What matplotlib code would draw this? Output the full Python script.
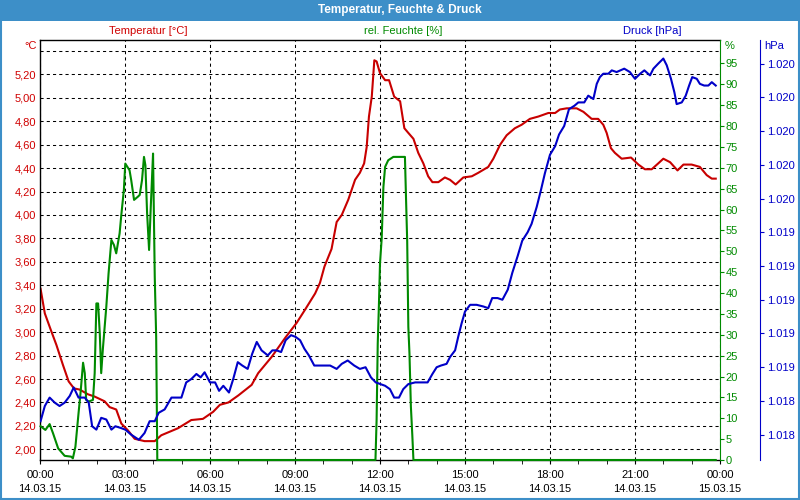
#!/usr/bin/env python
"""Weather station day plot: temperature, relative humidity and pressure
for 14.03.15 on three y axes sharing one time axis."""
import matplotlib
matplotlib.use("Agg")
import matplotlib.pyplot as plt
from matplotlib.patches import Rectangle
from matplotlib.ticker import FuncFormatter, MultipleLocator
import numpy as np

plt.rcParams.update({"font.family": ["Liberation Sans", "DejaVu Sans"], "font.size": 8})

RED = "#c80000"
GREEN = "#008a00"
BLUE = "#0000c8"
BAR = "#3d8fc8"

# hours since 14.03.15 00:00
temp_t = [0.02, 0.17, 0.38, 0.58, 0.81, 1.01, 1.2, 1.4, 1.69, 1.93, 2.28, 2.46, 2.69, 2.87,
          3.11, 3.34, 3.69, 4.05, 4.28, 4.87, 5.34, 5.75, 6.11, 6.35, 6.65, 7.0, 7.47, 7.7,
          8.18, 8.65, 9.06, 9.35, 9.71, 9.88, 10.04, 10.29, 10.47, 10.65, 10.88, 11.12, 11.29,
          11.44, 11.53, 11.61, 11.71, 11.8, 11.88, 12.0, 12.18, 12.32, 12.5, 12.71, 12.86, 13.0,
          13.18, 13.35, 13.53, 13.7, 13.85, 14.06, 14.29, 14.47, 14.67, 14.94, 15.24, 15.47,
          15.82, 16.0, 16.24, 16.47, 16.76, 17.0, 17.29, 17.59, 17.94, 18.18, 18.35, 18.59,
          18.94, 19.18, 19.47, 19.7, 19.88, 20.0, 20.15, 20.29, 20.53, 20.86, 21.12, 21.35,
          21.59, 21.82, 22.0, 22.24, 22.5, 22.71, 23.0, 23.29, 23.53, 23.71, 23.85]
temp_c = [3.37, 3.16, 3.02, 2.89, 2.72, 2.58, 2.52, 2.51, 2.47, 2.45, 2.41, 2.36, 2.34, 2.22,
          2.16, 2.09, 2.07, 2.07, 2.12, 2.18, 2.25, 2.26, 2.32, 2.38, 2.40, 2.46, 2.55, 2.65,
          2.79, 2.95, 3.08, 3.19, 3.33, 3.42, 3.56, 3.71, 3.94, 4.00, 4.13, 4.30, 4.36,
          4.44, 4.58, 4.84, 5.01, 5.32, 5.31, 5.21, 5.15, 5.15, 5.01, 4.97, 4.74, 4.70,
          4.65, 4.53, 4.44, 4.33, 4.28, 4.28, 4.32, 4.30, 4.26, 4.32, 4.33, 4.36,
          4.41, 4.48, 4.60, 4.68, 4.74, 4.77, 4.82, 4.84, 4.87, 4.87, 4.90, 4.91,
          4.91, 4.88, 4.82, 4.82, 4.77, 4.70, 4.57, 4.53, 4.48, 4.49, 4.43, 4.39,
          4.39, 4.44, 4.48, 4.45, 4.38, 4.43, 4.43, 4.41, 4.34, 4.31, 4.31]

hum_t = [0.02, 0.19, 0.34, 0.46, 0.64, 0.87, 1.1, 1.16, 1.25, 1.36, 1.43, 1.52, 1.58, 1.63,
         1.72, 1.87, 1.93, 1.99, 2.05, 2.11, 2.16, 2.22, 2.34, 2.42, 2.52, 2.61, 2.69, 2.81,
         2.87, 2.96, 3.01, 3.16, 3.22, 3.32, 3.46, 3.52, 3.6, 3.67, 3.72, 3.78, 3.85, 3.91,
         3.95, 3.99, 4.05, 4.1, 4.14, 11.84, 11.88, 11.92, 11.96, 12.0, 12.06, 12.12, 12.18,
         12.29, 12.47, 12.88, 12.92, 12.96, 13.0, 13.04, 13.09, 13.14, 13.18, 23.85]
hum_pct = [8.1, 7.2, 8.6, 6.4, 2.8, 1.0, 0.8, 0.4, 3.2, 11.2, 16.0, 23.3, 20.8, 14.4,
           14.0, 14.4, 20.8, 37.5, 37.5, 30.3, 20.8, 26.7, 36.7, 44.7, 52.7, 51.5, 49.5, 54.3,
           58.7, 64.7, 71.0, 69.4, 67.0, 62.3, 63.1, 63.5, 67.0, 72.6, 70.6, 59.1, 50.3, 60.7,
           67.0, 73.4, 43.9, 29.5, 0.0, 0.0, 9.6, 27.9, 36.7, 47.1, 53.1, 65.4, 70.2,
           71.8, 72.6, 72.6, 62.3, 52.3, 31.9, 25.5, 12.8, 6.0, 0.0, 0.0]

press_t = [0.02, 0.17, 0.34, 0.52, 0.69, 0.87, 1.05, 1.19, 1.36, 1.58,
           1.72, 1.84, 1.99, 2.16, 2.34, 2.52, 2.66, 2.85, 3.01, 3.22,
           3.49, 3.69, 3.87, 4.05, 4.19, 4.4, 4.64, 4.99, 5.16, 5.34,
           5.52, 5.67, 5.81, 6.0, 6.18, 6.32, 6.47, 6.67, 6.82, 6.98,
           7.14, 7.33, 7.49, 7.65, 7.82, 8.04, 8.2, 8.35, 8.51, 8.67,
           8.86, 9.02, 9.18, 9.33, 9.49, 9.68, 9.88, 10.24, 10.47, 10.65,
           10.86, 11.09, 11.29, 11.49, 11.68, 11.85, 12.18, 12.35, 12.5, 12.67,
           12.82, 13.0, 13.24, 13.68, 13.85, 14.0, 14.15, 14.35, 14.47, 14.65,
           14.76, 14.88, 15.0, 15.18, 15.41, 15.65, 15.82, 15.96, 16.15, 16.32,
           16.51, 16.67, 16.86, 17.02, 17.21, 17.35, 17.53, 17.68, 17.82, 18.0,
           18.18, 18.32, 18.5, 18.67, 18.86, 19.0, 19.21, 19.35, 19.53, 19.65,
           19.76, 19.88, 20.06, 20.18, 20.35, 20.62, 20.82, 21.0, 21.18, 21.33,
           21.53, 21.65, 21.82, 22.0, 22.12, 22.27, 22.39, 22.47, 22.65, 22.79,
           22.91, 23.02, 23.18, 23.29, 23.44, 23.59, 23.71, 23.85]
press_hpa = [1018.28, 1018.37, 1018.42, 1018.39, 1018.37, 1018.39, 1018.43, 1018.48, 1018.42, 1018.42,
             1018.39, 1018.25, 1018.23, 1018.30, 1018.29, 1018.23, 1018.25, 1018.24, 1018.23, 1018.20,
             1018.17, 1018.21, 1018.28, 1018.28, 1018.33, 1018.35, 1018.42, 1018.42, 1018.51, 1018.53,
             1018.56, 1018.54, 1018.57, 1018.51, 1018.51, 1018.46, 1018.49, 1018.45, 1018.53, 1018.63,
             1018.61, 1018.59, 1018.68, 1018.75, 1018.70, 1018.67, 1018.70, 1018.70, 1018.69, 1018.76,
             1018.79, 1018.78, 1018.76, 1018.71, 1018.67, 1018.61, 1018.61, 1018.61, 1018.59, 1018.62,
             1018.64, 1018.61, 1018.59, 1018.60, 1018.54, 1018.51, 1018.49, 1018.47, 1018.42, 1018.42,
             1018.47, 1018.50, 1018.51, 1018.51, 1018.56, 1018.60, 1018.61, 1018.62, 1018.66, 1018.70,
             1018.78, 1018.86, 1018.93, 1018.97, 1018.97, 1018.96, 1018.95, 1019.01, 1019.01, 1019.00,
             1019.06, 1019.16, 1019.26, 1019.35, 1019.40, 1019.45, 1019.55, 1019.65, 1019.75, 1019.86,
             1019.91, 1019.98, 1020.03, 1020.13, 1020.15, 1020.17, 1020.17, 1020.21, 1020.19, 1020.28,
             1020.32, 1020.34, 1020.34, 1020.36, 1020.35, 1020.37, 1020.35, 1020.31, 1020.34, 1020.36,
             1020.33, 1020.37, 1020.40, 1020.43, 1020.39, 1020.31, 1020.23, 1020.16, 1020.17, 1020.21,
             1020.27, 1020.32, 1020.31, 1020.28, 1020.27, 1020.27, 1020.29, 1020.27]

hour_ticks = [0, 3, 6, 9, 12, 15, 18, 21, 24]
hour_labels = ["00:00\n14.03.15", "03:00\n14.03.15", "06:00\n14.03.15", "09:00\n14.03.15",
               "12:00\n14.03.15", "15:00\n14.03.15", "18:00\n14.03.15", "21:00\n14.03.15",
               "00:00\n15.03.15"]


def main():
    fig = plt.figure(figsize=(8, 5), dpi=100)
    fig.patch.set_facecolor("white")
    # title bar + thin frame
    fig.add_artist(Rectangle((0, 479 / 500), 1, 21 / 500, transform=fig.transFigure,
                             fc=BAR, ec="none"))
    fig.add_artist(Rectangle((0.001, 0.002), 0.998, 0.997, transform=fig.transFigure,
                             fill=False, ec=BAR, lw=1.5))
    fig.text(0.5, 489.5 / 500, "Temperatur, Feuchte & Druck", color="white", weight="bold",
             fontsize=8.5, ha="center", va="center")

    ax = fig.add_axes([40 / 800, 40 / 500, 680 / 800, 420 / 500])
    dash = (0, (3, 3))

    # temperature (left axis)
    ax.plot(temp_t, temp_c, color=RED, lw=1.5)
    ax.set_xlim(0, 24)
    ax.set_ylim(1.909, 5.493)
    ax.set_yticks(np.arange(2.0, 5.41, 0.2))
    ax.yaxis.set_major_formatter(FuncFormatter(
        lambda v, p: "" if v > 5.3 else f"{v:.2f}".replace(".", ",")))
    ax.tick_params(axis="y", length=0, pad=3, labelcolor="#d00000", labelsize=8)
    ax.set_xticks(hour_ticks)
    ax.set_xticklabels(hour_labels, linespacing=1.55)
    ax.xaxis.set_minor_locator(MultipleLocator(1))
    ax.tick_params(axis="x", which="both", length=3, direction="out", pad=4, labelsize=8)
    ax.grid(axis="y", color="black", ls=dash, lw=0.75)
    ax.grid(axis="x", which="major", color="black", ls=dash, lw=0.75)
    ax.spines["right"].set_visible(False)
    for s in ("left", "top", "bottom"):
        ax.spines[s].set_linewidth(1.0)

    # humidity (first right axis)
    ax2 = ax.twinx()
    ax2.plot(hum_t, hum_pct, color=GREEN, lw=1.5, clip_on=False, zorder=3)
    ax2.set_ylim(0, 100.6)
    ax2.set_yticks(np.arange(0, 100, 5))
    ax2.tick_params(axis="y", length=3, pad=1, color=GREEN, labelcolor=GREEN, labelsize=8)
    for s in ("left", "top", "bottom"):
        ax2.spines[s].set_visible(False)
    ax2.spines["right"].set_color(GREEN)

    # pressure (second right axis, offset)
    ax3 = ax.twinx()
    ax3.plot(press_t, press_hpa, color=BLUE, lw=1.5)
    ax3.set_ylim(1018.05, 1020.54)
    ax3.set_yticks(np.arange(1018.2, 1020.41, 0.2))
    ax3.yaxis.set_major_formatter(FuncFormatter(lambda v, p: f"{v / 1000:.3f}"))
    ax3.spines["right"].set_position(("axes", 720 / 680))
    ax3.spines["right"].set_color(BLUE)
    for s in ("left", "top", "bottom"):
        ax3.spines[s].set_visible(False)
    ax3.tick_params(axis="y", length=3, pad=2, color=BLUE, labelcolor=BLUE, labelsize=8)

    # series names and units
    fig.text(148 / 800, 1 - 31 / 500, "Temperatur [°C]", color="#d00000", ha="center", va="center")
    fig.text(403 / 800, 1 - 31 / 500, "rel. Feuchte [%]", color=GREEN, ha="center", va="center")
    fig.text(652 / 800, 1 - 31 / 500, "Druck [hPa]", color=BLUE, ha="center", va="center")
    fig.text(37 / 800, 1 - 46 / 500, "°C", color="#d00000", ha="right", va="center")
    fig.text(725 / 800, 1 - 46 / 500, "%", color=GREEN, ha="left", va="center")
    fig.text(764 / 800, 1 - 46 / 500, "hPa", color=BLUE, ha="left", va="center")

    fig.savefig("out.png", dpi=100)
    plt.close(fig)


if __name__ == "__main__":
    main()
